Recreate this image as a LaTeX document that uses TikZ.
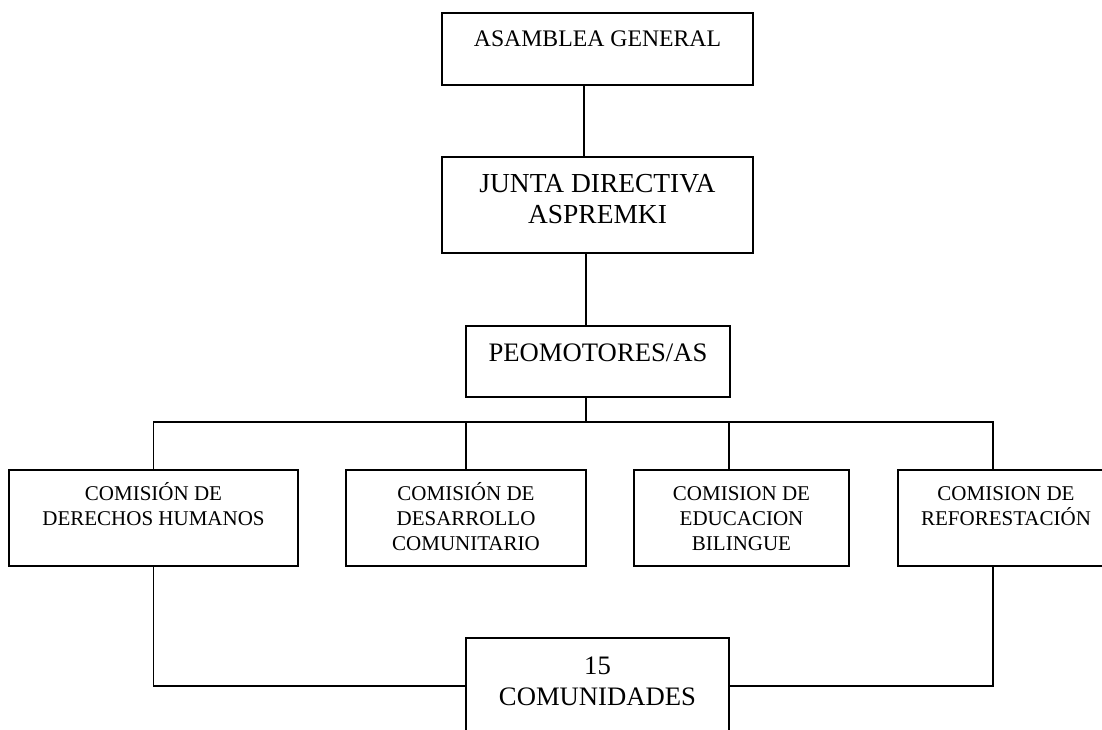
\documentclass[tikz,border=0pt]{standalone}
\usepackage{fontspec}
\setmainfont{Liberation Serif}
\usetikzlibrary{positioning}

\begin{document}
\begin{tikzpicture}[x=0.75pt,y=-0.75pt,line width=1.4pt,
    caja/.style 2 args={draw,inner sep=0pt,minimum width=#1*0.75pt,minimum height=#2*0.75pt},
    rotulo/.style={anchor=base,align=center,inner sep=0pt},
    chico/.style={font=\fontsize{15.75}{18.4}\selectfont}]
  \useasboundingbox (0,0) rectangle (1102,730);
  \clip (0,0) rectangle (1102,730);

  % cajas
  \node[caja={311}{72}] (asamblea) at (597.5,49) {};
  \node[caja={311}{96}] (junta) at (597.5,205) {};
  \node[caja={264}{71}] (promotores) at (598,361.5) {};
  \node[caja={289}{96}] (derechos) at (153.5,518) {};
  \node[caja={240}{96}] (desarrollo) at (466,518) {};
  \node[caja={215}{96}] (educacion) at (741.5,518) {};
  \node[caja={216}{96}] (reforestacion) at (1006,518) {};
  \node[caja={263}{122}] (comunidades) at (597.5,699) {};

  % textos (base = ultima linea)
  \node[rotulo,font=\fontsize{17.8}{22}\selectfont] (tasamblea) at (597.5,47) {ASAMBLEA GENERAL};
  \node[rotulo,font=\fontsize{20.6}{23.25}\selectfont] (tjunta) at (597.5,224) {JUNTA DIRECTIVA\\ASPREMKI};
  \node[rotulo,font=\fontsize{20}{22}\selectfont] (tpromotores) at (598,362) {PEOMOTORES/AS};
  \node[rotulo,chico] (tderechos) at (153.5,525) {COMISIÓN DE\\DERECHOS HUMANOS};
  \node[rotulo,chico] (tdesarrollo) at (466,550) {COMISIÓN DE\\DESARROLLO\\COMUNITARIO};
  \node[rotulo,chico] (teducacion) at (741.5,550) {COMISION DE\\EDUCACION\\BILINGUE};
  \node[rotulo,chico] (treforestacion) at (1006,525) {COMISION DE\\REFORESTACIÓN};
  \node[rotulo,font=\fontsize{20}{22.9}\selectfont] (tcomunidades) at (597.5,705) {15\\COMUNIDADES};

  % lineas
  \coordinate (e1) at (584,0);
  \coordinate (e2) at (586,0);
  \coordinate (bus) at (586,422);
  \coordinate (b3) at (729,422);
  \coordinate (b4) at (993,422);
  \coordinate (baja) at (0,686);
  \draw (asamblea.south -| e1) -- (junta.north -| e1);
  \draw (junta.south -| e2) -- (promotores.north -| e2);
  \draw (promotores.south -| bus) -- (bus);
  \draw (derechos.north) -- (derechos.north |- bus) -- (b4) -- (b4 |- reforestacion.north);
  \foreach \c in {desarrollo}
  \draw (\c.north |- bus) -- (\c.north);
  \draw (b3) -- (b3 |- educacion.north);
  \draw (derechos.south) |- (comunidades.west |- baja);
  \draw (b4 |- reforestacion.south) |- (comunidades.east |- baja);
\end{tikzpicture}
\end{document}
